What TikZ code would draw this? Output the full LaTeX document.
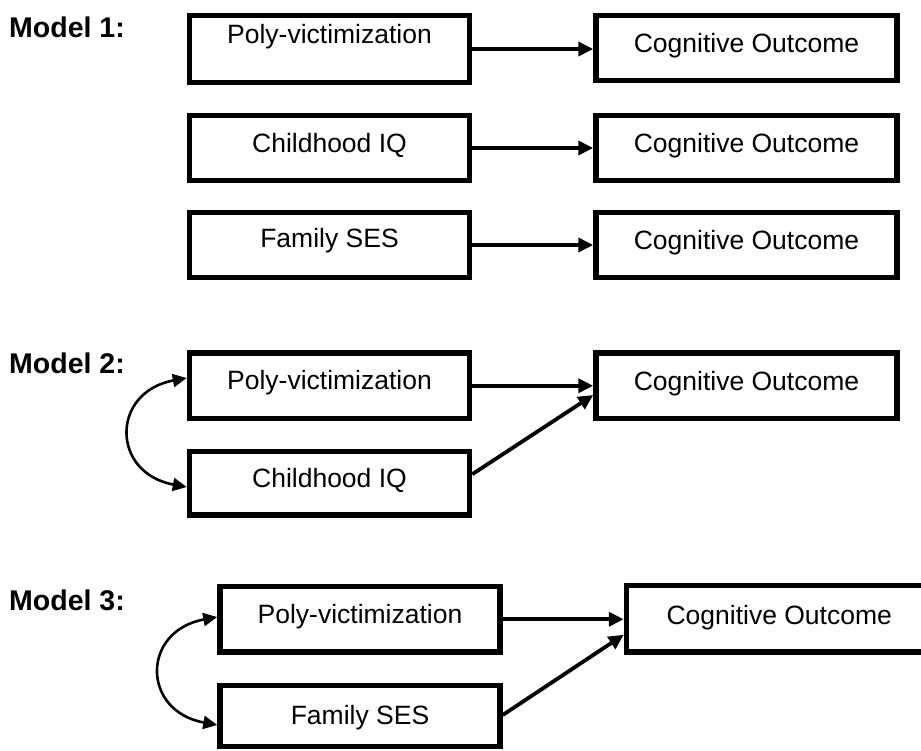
\documentclass[tikz,border=0pt]{standalone}
\usepackage{fontspec}
\setmainfont{Liberation Sans}
\usetikzlibrary{arrows.meta}
\begin{document}
\begin{tikzpicture}[x=1pt,y=-1pt,
  box/.style={draw, line width=5.5pt, rectangle, inner sep=0pt,
    font=\fontsize{26.5}{30}\selectfont, text height=19pt, text depth=10pt},
  leftbox/.style={box, minimum width=280pt},
  outbox/.style={box, minimum width=301pt},
  modellabel/.style={anchor=base west, inner sep=0pt, font=\bfseries\fontsize{28.5}{32}\selectfont},
  arr/.style={line width=3.8pt, -{Triangle[length=15pt,width=14pt]}},
  curv/.style={line width=2.6pt, {Triangle[length=14pt,width=13pt]}-{Triangle[length=14pt,width=13pt]}}
]
\useasboundingbox (0,0) rectangle (921,750);
\clip (0,0) rectangle (921,750);
\fill[white] (0,0) rectangle (921,750);

% Model 1
\node[modellabel] (m1) at (9,37) {Model 1:};
\node[leftbox, minimum height=67pt, text depth=31pt] (pv1) at (329.5,49) {Poly-victimization};
\node[outbox, minimum height=65pt] (co1) at (746.5,48) {Cognitive Outcome};
\node[leftbox, minimum height=65pt, text depth=11pt] (iq1) at (329.5,148) {Childhood IQ};
\node[outbox, minimum height=65pt] (co1b) at (746.5,148) {Cognitive Outcome};
\node[leftbox, minimum height=65pt, text depth=14pt] (ses1) at (329.5,245) {Family SES};
\node[outbox, minimum height=65pt] (co1c) at (746.5,245) {Cognitive Outcome};
\draw[arr] (pv1.east) -- (pv1.east -| co1.west);
\draw[arr] (iq1.east) -- (iq1.east -| co1b.west);
\draw[arr] (ses1.east) -- (ses1.east -| co1c.west);

% Model 2
\node[modellabel] (m2) at (9,373) {Model 2:};
\node[leftbox, minimum height=65.5pt, text depth=11pt] (pv2) at (329.5,385.75) {Poly-victimization};
\node[outbox, minimum height=65.5pt] (co2) at (746.5,385.5) {Cognitive Outcome};
\node[leftbox, minimum height=63.5pt, text depth=10pt] (iq2) at (329.5,483.25) {Childhood IQ};
\draw[arr] (pv2.east) -- (pv2.east -| co2.west);
\draw[arr] ([yshift=9pt]iq2.east) -- ([yshift=-9.5pt]co2.west);
\draw[curv] ([yshift=7.75pt]pv2.west) .. controls +(-76,14) and +(-76,-14) .. ([yshift=-3.75pt]iq2.west);

% Model 3
\node[modellabel] (m3) at (9,610) {Model 3:};
\node[leftbox, minimum height=65.5pt, text depth=10pt] (pv3) at (360,619.25) {Poly-victimization};
\node[box, minimum width=305.5pt, minimum height=66.5pt, text depth=8pt] (co3) at (779.25,618.75) {Cognitive Outcome};
\node[leftbox, minimum height=61pt, text depth=2pt] (ses3) at (360,716) {Family SES};
\draw[arr] (pv3.east) -- (pv3.east -| co3.west);
\draw[arr] ([yshift=1pt]ses3.east) -- ([yshift=-16pt]co3.west);
\draw[curv] ([yshift=2.25pt]pv3.west) .. controls +(-76,14) and +(-76,-14) .. ([yshift=-9pt]ses3.west);
\end{tikzpicture}
\end{document}
